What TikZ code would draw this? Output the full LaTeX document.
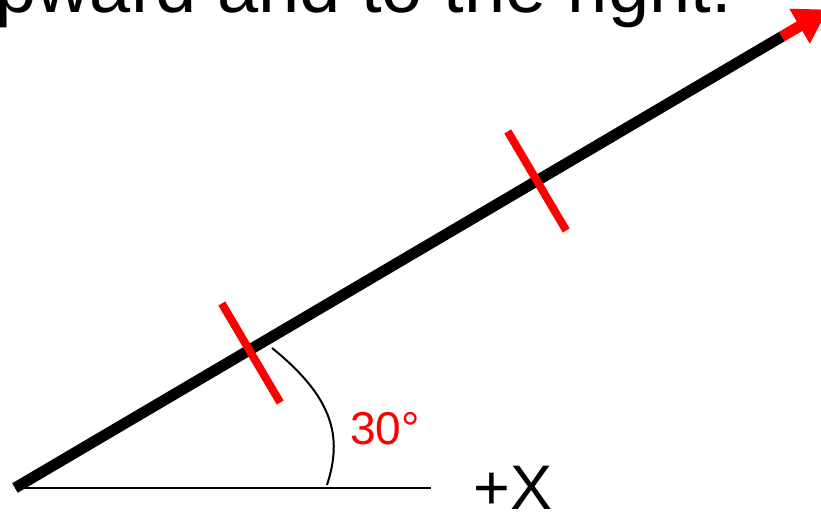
\documentclass[tikz,border=0pt]{standalone}
\usepackage{fontspec}
\setmainfont{Liberation Sans}
\usetikzlibrary{arrows.meta}
\definecolor{vecred}{HTML}{FF0000}
\definecolor{vecblack}{HTML}{000000}
\tikzset{
  tickmark/.style={vecred,line width=4pt},
  axistext/.style={anchor=base west,inner sep=0pt}
}

\begin{document}
\begin{tikzpicture}[x=0.5pt,y=0.5pt]
  \useasboundingbox (0,0) rectangle (821,512);
  \coordinate (origin) at (15,24);
  \coordinate (xend) at (431,24);
  \coordinate (headstart) at (782,475.5);
  \coordinate (tip) at (828,502.5);
  \coordinate (tickA) at (251,159);
  \coordinate (tickB) at (537,331);
  \coordinate (arcstart) at (272,164);
  \coordinate (arcend) at (327,27);
  % axis and vector
  \draw[vecblack,line width=1.2pt] (origin) -- (xend);
  \draw[vecblack,line width=5.5pt] (origin) -- (headstart);
  \draw[vecred,line width=5.5pt,-{Triangle[length=16.5pt,width=19pt]}] (headstart) -- (tip);
  \draw[tickmark] (tickA) ++(-29.2,49.5) -- ++(58.4,-99);
  \draw[tickmark] (tickB) ++(-29.2,49.5) -- ++(58.4,-99);
  \draw[vecblack,line width=1pt] (arcstart) .. controls (334.2,113.7) and (342.5,74.6) .. (arcend);
  % texts
  \node[axistext,font=\fontsize{37}{44}\selectfont] (caption) at (-5,499) {pward and to the right.};
  \node[axistext,font=\fontsize{31.5}{38}\selectfont] (xlabel) at (473,2) {+X};
  \node[axistext,vecred,font=\fontsize{23}{28}\selectfont] (anglelabel) at (350,67) {30°};
\end{tikzpicture}
\end{document}
